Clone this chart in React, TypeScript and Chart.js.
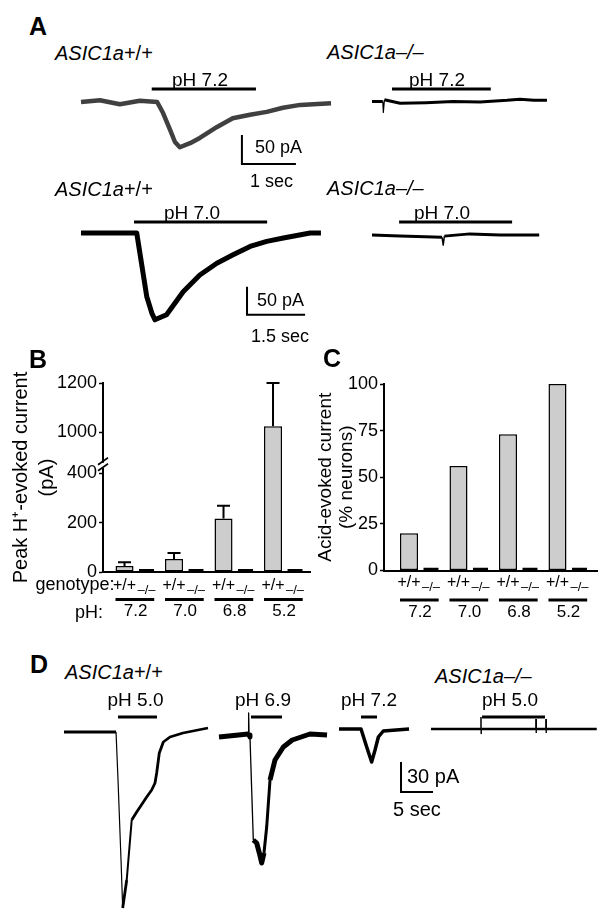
import React, { useEffect, useRef } from 'react';
import { Chart, registerables } from 'chart.js';

Chart.register(...registerables);

const FONT = '"Liberation Sans", Arial, Helvetica, sans-serif';
Chart.defaults.font.family = FONT;
Chart.defaults.color = '#000';

// ================= Panel B / C data =================
const phCategories = ['7.2', '7.0', '6.8', '5.2'];
const genotypeLabels = ['+/+', '–/–'];
const peakCurrentWT = [24, 53, 217, 1025]; // pA
const peakCurrentWTSem = [15, 24, 51, 175]; // pA
const peakCurrentKO = [3, 3, 3, 3]; // pA
const peakTicks = [0, 200, 400, 1000, 1200];
const respondingWT = [20, 56, 73, 100]; // % neurons
const respondingKO = [0.5, 0.5, 0.5, 0.5]; // % neurons
const respondingTicks = [0, 25, 50, 75, 100];

// broken axis for panel B
const BREAK_LOW = 450;
const BREAK_SHIFT = 435;
const toAxis = (v: number) => (v > BREAK_LOW ? v - BREAK_SHIFT : v);

// ================= Traces (time s, current pA) =================
const A72_WT_T = [0, 0.35, 0.72, 1.09, 1.41, 1.52, 1.65, 1.74, 1.83, 2.02, 2.2, 2.52, 2.81, 3.13, 3.44, 3.74, 4.06, 4.63];
const A72_WT_I = [0, 3, -4, 2, 0, -19, -48, -69, -78, -71, -62, -43, -28, -22, -17, -10, -5, -2];
const A72_KO_T = [0, 0.2, 0.21, 0.23, 0.52, 1.0, 1.5, 2.0, 2.5, 2.74, 3.0, 3.24];
const A72_KO_I = [0, 0, -19, 3, -3, -2, 0, -1, 2, 4, 2, 2];
const A70_WT_T = [0, 1.44, 1.57, 1.7, 1.83, 1.91, 2.21, 2.64, 3.07, 3.51, 3.93, 4.37, 4.8, 5.23, 5.92, 6.2];
const A70_WT_I = [0, 0, -57, -114, -143, -155, -146, -105, -75, -54, -39, -24, -15, -9, 0, 0];
const A70_KO_T = [0, 0.72, 1.81, 1.84, 1.87, 2.53, 3.31, 4.32];
const A70_KO_I = [0, -2, -4, -18, -2, 2, 0, 0];
const D50_WT_T = [0, 8.13, 8.44, 8.91, 9.17, 9.8, 10.58, 11.36, 12.92, 13.7, 14.22, 14.48, 14.89, 15.52, 16.56, 18.59, 22.5];
const D50_WT_I = [0, 0, -48, -128, -176, -148, -88, -80, -65, -58, -51, -41, -21, -10, -5, -1, 4];
const D69_WT_T = [0, 4.58, 4.63, 4.7, 4.84, 5.36, 5.89, 6.3, 6.67, 7.03, 7.45, 7.97, 8.75, 10.05, 11.45, 14.22, 16.88];
const D69_WT_I = [-2, 1, 22, 0, -2, -105, -108, -118, -128, -118, -92, -45, -25, -12, -5, 1, 0];
const D72_WT_T = [0, 3.44, 4.33, 5.1, 5.63, 6.15, 6.92, 10.94];
const D72_WT_I = [0, 0, -18, -33, -21, -8, -2, 0];
const D50_KO_T = [0, 7.8, 7.81, 7.83, 7.86, 16.4, 16.41, 16.43, 16.46, 17.96, 17.97, 17.99, 18.02, 25.9];
const D50_KO_I = [0, 0, 12, -5, 0, 0, 10, -4, 0, 0, 10, -4, 0, 0];

// stimulus (acid application) windows, s
const STIM_A72_WT = [1.31, 3.24];
const STIM_A72_KO = [0.37, 2.2];
const STIM_A70_WT = [1.37, 4.81];
const STIM_A70_KO = [0.7, 3.62];
const STIM_D50_WT = [8.44, 14.53];
const STIM_D69_WT = [5.0, 9.84];
const STIM_D72_WT = [3.44, 5.94];
const STIM_D50_KO = [7.97, 17.81];

type TraceSpec = {
  box: [number, number, number, number];
  origin: [number, number];
  pxPerS: number;
  pxPerPA: number;
  t: number[];
  i: number[];
  color: string;
  width: number;
  thin?: number;
  steep?: number;
  mid?: number;
  midSteep?: number;
  stim: number[];
  stimY: number;
  scaleBar?: { t: number; i: number; dt: number; di: number };
};

const traceSpecs: TraceSpec[] = [
  { box: [70, 80, 270, 95], origin: [81, 102], pxPerS: 54, pxPerPA: 0.58, t: A72_WT_T, i: A72_WT_I, color: '#404040', width: 4.5, stim: STIM_A72_WT, stimY: 89, scaleBar: { t: 2.98, i: -57, dt: 1, di: 50 } },
  { box: [365, 80, 190, 40], origin: [372, 101.5], pxPerS: 54, pxPerPA: 0.58, t: A72_KO_T, i: A72_KO_I, color: '#000', width: 3, thin: 1.2, steep: 300, stim: STIM_A72_KO, stimY: 89 },
  { box: [70, 212, 262, 115], origin: [81, 233], pxPerS: 38.7, pxPerPA: 0.56, t: A70_WT_T, i: A70_WT_I, color: '#000', width: 5, stim: STIM_A70_WT, stimY: 222, scaleBar: { t: 4.29, i: -96, dt: 1.5, di: 50 } },
  { box: [365, 212, 190, 40], origin: [372, 235], pxPerS: 38.7, pxPerPA: 0.56, t: A70_KO_T, i: A70_KO_I, color: '#000', width: 3, thin: 1.5, steep: 300, stim: STIM_A70_KO, stimY: 222 },
  { box: [55, 708, 160, 212], origin: [64, 732], pxPerS: 6.4, pxPerPA: 1, t: D50_WT_T, i: D50_WT_I, color: '#000', width: 2.8, thin: 1.2, steep: 150, mid: 2, midSteep: 60, stim: STIM_D50_WT, stimY: 717 },
  { box: [212, 708, 120, 165], origin: [219, 735], pxPerS: 6.4, pxPerPA: 1, t: D69_WT_T, i: D69_WT_I, color: '#000', width: 5, thin: 1.3, steep: 150, mid: 3, midSteep: 35, stim: STIM_D69_WT, stimY: 717 },
  { box: [332, 708, 110, 90], origin: [339, 729], pxPerS: 6.4, pxPerPA: 1, t: D72_WT_T, i: D72_WT_I, color: '#000', width: 3.5, stim: STIM_D72_WT, stimY: 717, scaleBar: { t: 9.69, i: -33, dt: 5, di: 30 } },
  { box: [425, 708, 180, 35], origin: [431, 729], pxPerS: 6.4, pxPerPA: 1, t: D50_KO_T, i: D50_KO_I, color: '#000', width: 2.5, thin: 1, steep: 50, stim: STIM_D50_KO, stimY: 717 },
];

function TraceChart({ spec }: { spec: TraceSpec }) {
  const ref = useRef<HTMLCanvasElement>(null);
  const [L, T, W, H] = spec.box;
  useEffect(() => {
    const [x0, y0] = spec.origin;
    const xMin = (L - x0) / spec.pxPerS;
    const xMax = (L + W - x0) / spec.pxPerS;
    const yMax = (y0 - T) / spec.pxPerPA;
    const yMin = (y0 - T - H) / spec.pxPerPA;
    const overlay = {
      id: 'overlay',
      afterDatasetsDraw(chart: any) {
        const ctx = chart.ctx;
        const xs = chart.scales.x;
        const ys = chart.scales.y;
        ctx.save();
        ctx.strokeStyle = '#000';
        ctx.lineCap = 'butt';
        ctx.lineWidth = 3;
        const sy = spec.stimY - T;
        ctx.beginPath();
        ctx.moveTo(xs.getPixelForValue(spec.stim[0]), sy);
        ctx.lineTo(xs.getPixelForValue(spec.stim[1]), sy);
        ctx.stroke();
        if (spec.scaleBar) {
          const sb = spec.scaleBar;
          ctx.lineWidth = 2;
          ctx.beginPath();
          ctx.moveTo(xs.getPixelForValue(sb.t), ys.getPixelForValue(sb.i));
          ctx.lineTo(xs.getPixelForValue(sb.t), ys.getPixelForValue(sb.i - sb.di));
          ctx.lineTo(xs.getPixelForValue(sb.t + sb.dt), ys.getPixelForValue(sb.i - sb.di));
          ctx.stroke();
        }
        ctx.restore();
      },
    };
    const ds: any = {
      data: spec.t.map((t, k) => ({ x: t, y: spec.i[k] })),
      borderColor: spec.color,
      borderWidth: spec.width,
      pointRadius: 0,
      tension: 0,
      clip: false,
      borderJoinStyle: 'round',
    };
    if (spec.thin) {
      ds.segment = {
        borderWidth: (c: any) => {
          const dt = Math.abs(c.p1.parsed.x - c.p0.parsed.x);
          const di = Math.abs(c.p1.parsed.y - c.p0.parsed.y);
          const slope = di / Math.max(dt, 1e-6);
          if (slope > (spec.steep || 50)) return spec.thin;
          if (spec.mid && slope > (spec.midSteep || 30)) return spec.mid;
          return undefined;
        },
      };
    }
    const chart = new Chart(ref.current as HTMLCanvasElement, {
      type: 'line',
      data: { datasets: [ds] },
      options: {
        animation: false,
        responsive: false,
        devicePixelRatio: 1,
        events: [],
        layout: { padding: 0 },
        plugins: { legend: { display: false }, tooltip: { enabled: false } },
        scales: {
          x: { type: 'linear', display: false, min: xMin, max: xMax },
          y: { type: 'linear', display: false, min: yMin, max: yMax },
        },
      },
      plugins: [overlay],
    } as any);
    return () => chart.destroy();
  }, []);
  return <canvas ref={ref} width={W} height={H} style={{ position: 'absolute', left: L, top: T, width: W, height: H }} />;
}

type BarSpec = {
  box: [number, number, number, number];
  padTop: number;
  padRight: number;
  yWidth: number;
  xHeight: number;
  xRange: [number, number];
  yMax: number;
  yTickVals: number[];
  yTickLabels: string[];
  wt: number[];
  ko: number[];
  errTop?: number[];
  title: string[];
  titleSize: number;
  titleLH: number;
  titlePad: number;
  xTickPad: number;
  genoBase: number;
  underOff: number;
  extra: boolean;
  breakAt?: number;
};

const peakSpec: BarSpec = {
  box: [0, 370, 320, 260],
  padTop: 13,
  padRight: 10,
  yWidth: 103,
  xHeight: 58,
  xRange: [0.343, 4.525],
  yMax: toAxis(1200),
  yTickVals: peakTicks.map(toAxis),
  yTickLabels: peakTicks.map(String),
  wt: peakCurrentWT.map(toAxis),
  ko: peakCurrentKO.map(toAxis),
  errTop: peakCurrentWT.map((m, k) => toAxis(m + peakCurrentWTSem[k])),
  title: ['Peak H⁺-evoked current', '(pA)'],
  titleSize: 20,
  titleLH: 1.3,
  titlePad: 8,
  xTickPad: 29,
  genoBase: 18,
  underOff: 27.5,
  extra: true,
  breakAt: 430,
};

const pctSpec: BarSpec = {
  box: [300, 370, 314, 260],
  padTop: 14,
  padRight: 17,
  yWidth: 84,
  xHeight: 59.5,
  xRange: [0.273, 4.576],
  yMax: 100,
  yTickVals: respondingTicks,
  yTickLabels: respondingTicks.map(String),
  wt: respondingWT,
  ko: respondingKO,
  title: ['Acid-evoked current', '(% neurons)'],
  titleSize: 19,
  titleLH: 1.1,
  titlePad: 15.5,
  xTickPad: 32,
  genoBase: 16,
  underOff: 29.5,
  extra: false,
};

function BarChart({ spec }: { spec: BarSpec }) {
  const ref = useRef<HTMLCanvasElement>(null);
  const [L, T, W, H] = spec.box;
  useEffect(() => {
    const decor = {
      id: 'decor',
      afterDatasetsDraw(chart: any) {
        const ctx = chart.ctx;
        const ys = chart.scales.y;
        const area = chart.chartArea;
        const m0 = chart.getDatasetMeta(0);
        const m1 = chart.getDatasetMeta(1);
        ctx.save();
        ctx.strokeStyle = '#000';
        ctx.fillStyle = '#000';
        if (spec.errTop) {
          ctx.lineWidth = 2;
          m0.data.forEach((el: any, k: number) => {
            const yt = ys.getPixelForValue(spec.errTop![k]);
            ctx.beginPath();
            ctx.moveTo(el.x, el.y);
            ctx.lineTo(el.x, yt);
            ctx.moveTo(el.x - 6.5, yt);
            ctx.lineTo(el.x + 6.5, yt);
            ctx.stroke();
          });
        }
        ctx.textAlign = 'center';
        ctx.textBaseline = 'alphabetic';
        m0.data.forEach((b0: any, k: number) => {
          const b1 = m1.data[k];
          ctx.font = `16px ${FONT}`;
          ctx.fillText(genotypeLabels[0], b0.x, area.bottom + spec.genoBase);
          ctx.font = `13px ${FONT}`;
          ctx.fillText(genotypeLabels[1], b1.x, area.bottom + spec.genoBase + 4);
          ctx.lineWidth = 3;
          ctx.beginPath();
          ctx.moveTo(b0.x - b0.width / 2, area.bottom + spec.underOff);
          ctx.lineTo(b1.x + b1.width / 2, area.bottom + spec.underOff);
          ctx.stroke();
        });
        if (spec.extra) {
          const first = m0.data[0];
          ctx.textAlign = 'right';
          ctx.font = `18px ${FONT}`;
          ctx.fillText('genotype:', first.x - first.width / 2 - 1, area.bottom + spec.genoBase);
          ctx.fillText('pH:', area.left, area.bottom + 46);
        }
        ctx.restore();
      },
      afterDraw(chart: any) {
        if (spec.breakAt === undefined) return;
        const ctx = chart.ctx;
        const x = chart.chartArea.left;
        const y = chart.scales.y.getPixelForValue(spec.breakAt);
        ctx.save();
        ctx.fillStyle = '#fff';
        ctx.fillRect(x - 2, y - 3, 4, 5);
        ctx.strokeStyle = '#000';
        ctx.lineWidth = 1.6;
        ctx.beginPath();
        ctx.moveTo(x - 5, y - 1);
        ctx.lineTo(x + 5, y - 8);
        ctx.moveTo(x - 5, y + 5);
        ctx.lineTo(x + 5, y - 2);
        ctx.stroke();
        ctx.restore();
      },
    };
    const chart = new Chart(ref.current as HTMLCanvasElement, {
      type: 'bar',
      data: {
        datasets: [
          {
            data: spec.wt.map((v, k) => ({ x: k + 1, y: v })),
            backgroundColor: '#cdcdcd',
            borderColor: '#000',
            borderWidth: 1.5,
            borderSkipped: false,
            categoryPercentage: 0.889,
            barPercentage: 0.82,
          },
          {
            data: spec.ko.map((v, k) => ({ x: k + 1, y: v })),
            backgroundColor: '#000',
            borderColor: '#000',
            borderWidth: 1.5,
            borderSkipped: false,
            minBarLength: 3,
            categoryPercentage: 0.889,
            barPercentage: 0.7,
          },
        ],
      },
      options: {
        animation: false,
        responsive: false,
        devicePixelRatio: 1,
        events: [],
        layout: { padding: { top: spec.padTop, right: spec.padRight, bottom: 0, left: 0 } },
        plugins: { legend: { display: false }, tooltip: { enabled: false } },
        scales: {
          x: {
            type: 'linear',
            offset: false,
            min: spec.xRange[0],
            max: spec.xRange[1],
            afterBuildTicks: (s: any) => {
              s.ticks = phCategories.map((_, k) => ({ value: k + 1 }));
            },
            afterFit: (s: any) => {
              s.height = spec.xHeight;
            },
            grid: { display: false, drawTicks: true, tickLength: spec.xTickPad },
            border: { display: true, color: '#000', width: 2 },
            ticks: {
              autoSkip: false,
              maxRotation: 0,
              padding: 0,
              font: { size: 17, family: FONT },
              color: '#000',
              callback: (v: any) => phCategories[Math.round(v) - 1] ?? '',
            },
          },
          y: {
            type: 'linear',
            min: 0,
            max: spec.yMax,
            afterBuildTicks: (s: any) => {
              s.ticks = spec.yTickVals.map((v) => ({ value: v }));
            },
            afterFit: (s: any) => {
              s.width = spec.yWidth;
            },
            grid: { display: true, drawOnChartArea: false, drawTicks: true, tickLength: 4, tickWidth: 1.5, tickColor: '#000', color: '#000' },
            border: { display: true, color: '#000', width: 2 },
            ticks: {
              padding: 2,
              font: { size: 18, family: FONT },
              color: '#000',
              callback: (v: any) => {
                const k = spec.yTickVals.indexOf(v);
                return k >= 0 ? spec.yTickLabels[k] : '';
              },
            },
            title: {
              display: true,
              text: spec.title,
              color: '#000',
              font: { size: spec.titleSize, family: FONT, lineHeight: spec.titleLH },
              padding: { top: spec.titlePad, bottom: 0 },
            },
          },
        },
      },
      plugins: [decor],
    } as any);
    return () => chart.destroy();
  }, []);
  return <canvas ref={ref} width={W} height={H} style={{ position: 'absolute', left: L, top: T, width: W, height: H }} />;
}

function Txt(props: { x: number; y: number; size: number; children: React.ReactNode; center?: boolean; bold?: boolean; italic?: boolean }) {
  const { x, y, size, children, center, bold, italic } = props;
  const style: React.CSSProperties = {
    position: 'absolute',
    left: x,
    top: y - 0.8465 * size,
    fontFamily: FONT,
    fontSize: size,
    lineHeight: `${size}px`,
    whiteSpace: 'nowrap',
    fontWeight: bold ? 'bold' : 'normal',
    fontStyle: italic ? 'italic' : 'normal',
    color: '#000',
    transform: center ? 'translateX(-50%)' : undefined,
  };
  return <div style={style}>{children}</div>;
}

const WT = () => (
  <>
    <i>ASIC1a</i>+/+
  </>
);
const KO = () => <i>ASIC1a–/–</i>;

export default function App() {
  return (
    <div style={{ position: 'absolute', left: 0, top: 0, width: 614, height: 924, background: '#fff', overflow: 'hidden' }}>
      {traceSpecs.map((s, k) => (
        <TraceChart key={k} spec={s} />
      ))}
      <BarChart spec={peakSpec} />
      <BarChart spec={pctSpec} />

      <Txt x={29} y={35} size={25} bold>A</Txt>
      <Txt x={55} y={60} size={20}><WT /></Txt>
      <Txt x={327} y={59} size={20}><KO /></Txt>
      <Txt x={200} y={86} size={19} center>pH 7.2</Txt>
      <Txt x={437} y={86} size={19} center>pH 7.2</Txt>
      <Txt x={255} y={153} size={18}>50 pA</Txt>
      <Txt x={250} y={187} size={18}>1 sec</Txt>
      <Txt x={55} y={196} size={20}><WT /></Txt>
      <Txt x={327} y={195} size={20}><KO /></Txt>
      <Txt x={192} y={219} size={19} center>pH 7.0</Txt>
      <Txt x={442} y={219} size={19} center>pH 7.0</Txt>
      <Txt x={257} y={306} size={18}>50 pA</Txt>
      <Txt x={251} y={342} size={18}>1.5 sec</Txt>

      <Txt x={29} y={368} size={25} bold>B</Txt>
      <Txt x={323} y={367} size={25} bold>C</Txt>

      <Txt x={30} y={673} size={25} bold>D</Txt>
      <Txt x={65} y={679} size={20}><WT /></Txt>
      <Txt x={435} y={683} size={20}><KO /></Txt>
      <Txt x={135.5} y={706} size={19} center>pH 5.0</Txt>
      <Txt x={263} y={706} size={19} center>pH 6.9</Txt>
      <Txt x={369} y={706} size={19} center>pH 7.2</Txt>
      <Txt x={510} y={706} size={19} center>pH 5.0</Txt>
      <Txt x={407} y={783} size={20}>30 pA</Txt>
      <Txt x={393} y={816} size={20}>5 sec</Txt>
    </div>
  );
}
